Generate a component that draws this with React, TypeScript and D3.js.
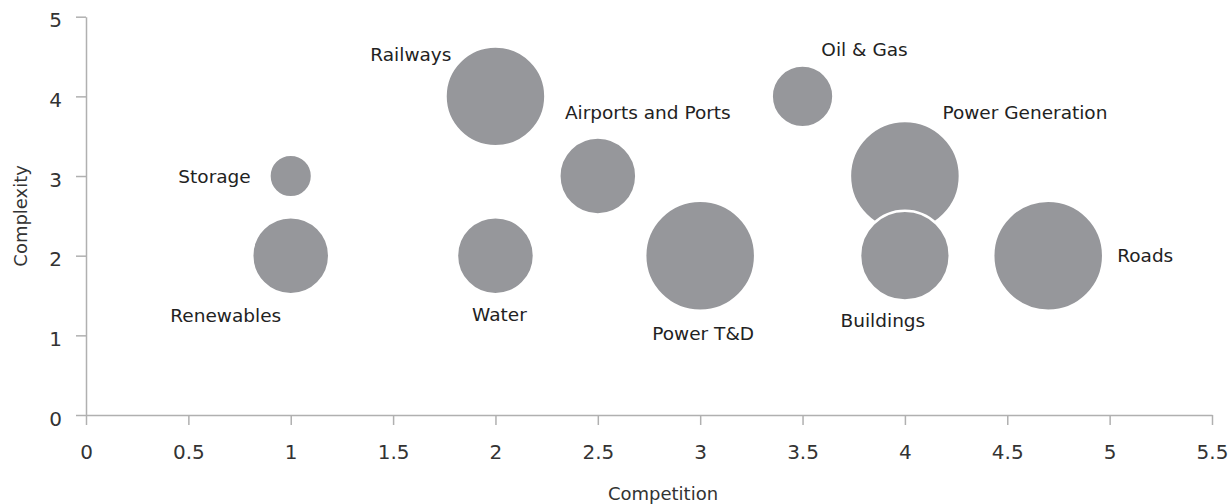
import React, { useEffect, useRef } from "react";
import * as d3 from "d3";

// ---- data ----
const sectors = ["Storage", "Renewables", "Railways", "Water", "Airports and Ports", "Power T&D", "Oil & Gas", "Power Generation", "Buildings", "Roads"];
const competition = [1, 1, 2, 2, 2.5, 3, 3.5, 4, 4, 4.7];
const complexity = [3, 2, 4, 2, 3, 2, 4, 3, 2, 2];
const bubbleSize = [3, 9.8, 16.5, 9.8, 9.8, 20, 6.3, 20, 13.3, 20];
const xTicks = [0, 0.5, 1, 1.5, 2, 2.5, 3, 3.5, 4, 4.5, 5, 5.5];
const yTicks = [0, 1, 2, 3, 4, 5];

// ---- label placement (layout, px relative to bubble centre) ----
const labelAnchor = ["end", "middle", "end", "middle", "middle", "middle", "middle", "middle", "middle", "start"];
const labelDx = [-40, -65, -44, 4, 50, 3, 62, 120, -22, 69];
const labelDy = [6.5, 66, -35.5, 65, -57, 84, -40, -57.5, 71, 6.5];

const W = 1232;
const H = 504;
const FONT = "'DejaVu Sans', sans-serif";
const LABEL_SIZE = 18.5;

export default function App() {
  const ref = useRef<SVGSVGElement | null>(null);

  useEffect(() => {
    document.body.style.margin = "0";
    const svg = d3.select(ref.current);
    svg.selectAll("*").remove();

    const x = d3.scaleLinear().domain([0, 5.5]).range([86, 1212]);
    const y = d3.scaleLinear().domain([0, 5]).range([415, 16.7]);
    const r = d3.scaleSqrt().domain([0, 20]).range([0, 55]);

    const axisColor = "#b0b0b0";

    // x axis
    const gx = svg.append("g").attr("transform", `translate(0,${y(0)})`)
      .call(d3.axisBottom(x).tickValues(xTicks).tickSize(10).tickSizeOuter(0).tickPadding(20).tickFormat((d: any) => String(d)));
    gx.select(".domain").attr("stroke", axisColor).attr("stroke-width", 1.5);
    gx.selectAll(".tick line").attr("stroke", axisColor).attr("stroke-width", 1.5);
    gx.selectAll(".tick text").attr("fill", "#333").attr("font-size", 20).attr("font-family", FONT);

    // y axis
    const gy = svg.append("g").attr("transform", `translate(${x(0)},0)`)
      .call(d3.axisLeft(y).tickValues(yTicks).tickSize(10).tickSizeOuter(0).tickPadding(14).tickFormat((d: any) => String(d)));
    gy.select(".domain").attr("stroke", axisColor).attr("stroke-width", 1.5);
    gy.selectAll(".tick line").attr("stroke", axisColor).attr("stroke-width", 1.5);
    gy.selectAll(".tick text").attr("fill", "#333").attr("font-size", 20).attr("font-family", FONT).attr("dy", "0.5em");

    // axis titles
    svg.append("text")
      .attr("x", (x(0) + x(5.5)) / 2 + 14)
      .attr("y", 500)
      .attr("text-anchor", "middle")
      .attr("font-family", FONT)
      .attr("font-size", 18)
      .attr("fill", "#333")
      .text("Competition");
    svg.append("text")
      .attr("transform", `translate(27,${(y(0) + y(5)) / 2}) rotate(-90)`)
      .attr("text-anchor", "middle")
      .attr("font-family", FONT)
      .attr("font-size", 18)
      .attr("fill", "#333")
      .text("Complexity");

    const idx = d3.range(sectors.length);

    // bubbles
    svg.append("g").selectAll("circle").data(idx).join("circle")
      .attr("cx", (i) => x(competition[i]))
      .attr("cy", (i) => y(complexity[i]))
      .attr("r", (i) => r(bubbleSize[i]))
      .attr("fill", "#96979b")
      .attr("stroke", "#ffffff")
      .attr("stroke-width", 2.5);

    // labels
    svg.append("g").selectAll("text").data(idx).join("text")
      .attr("x", (i) => x(competition[i]) + labelDx[i])
      .attr("y", (i) => y(complexity[i]) + labelDy[i])
      .attr("text-anchor", (i) => labelAnchor[i])
      .attr("font-family", FONT)
      .attr("font-size", LABEL_SIZE)
      .attr("fill", "#222")
      .text((i) => sectors[i]);
  }, []);

  return <svg ref={ref} width={W} height={H} style={{ display: "block", background: "#fff" }} />;
}
